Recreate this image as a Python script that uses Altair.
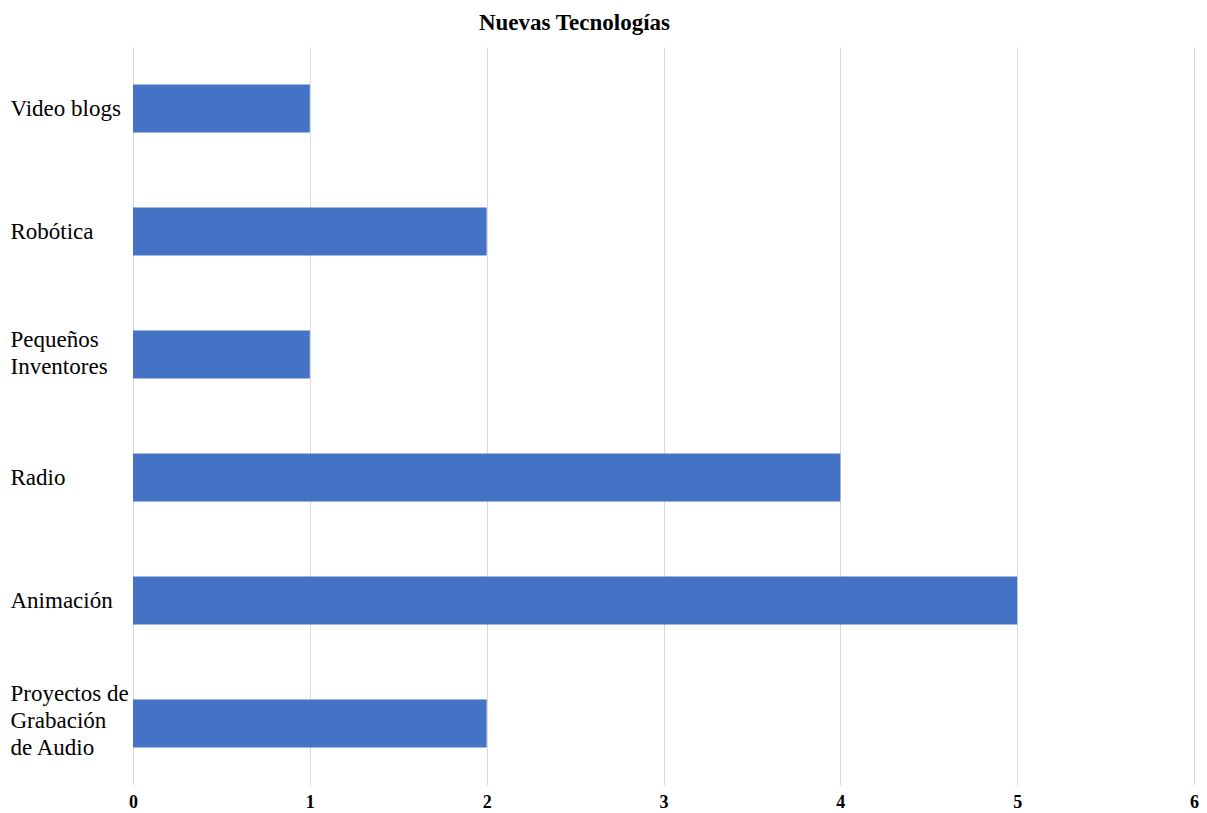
import altair as alt
import pandas as pd

categories = ["Video blogs", "Robótica", "Pequeños\nInventores", "Radio", "Animación", "Proyectos de\nGrabación\nde Audio"]
values = [1, 2, 1, 4, 5, 2]
x_ticks = [0, 1, 2, 3, 4, 5, 6]

df = pd.DataFrame({"cat": categories, "val": values})

chart = alt.Chart(df).mark_bar(color="#4472C4").encode(
    x=alt.X("val:Q", scale=alt.Scale(domain=[0, 6], nice=False),
            axis=alt.Axis(values=x_ticks, title=None, grid=True, gridColor="#d9d9d9",
                          domain=False, ticks=False, labelFont="Liberation Serif",
                          labelFontWeight="bold", labelFontSize=18, labelColor="#000000",
                          labelPadding=8, labelFlush=False, format="d")),
    y=alt.Y("cat:N", sort=categories,
            scale=alt.Scale(paddingInner=0.61, paddingOuter=0.305),
            axis=alt.Axis(title=None, domain=False, ticks=False, labelAlign="left",
                          labelPadding=123, labelFont="Liberation Serif", labelFontSize=23,
                          labelColor="#000000", labelLineHeight=27, labelLimit=200,
                          labelOffset=alt.ExprRef("-15*(length(split(datum.value, '\\n'))-1)"),
                          labelExpr="split(datum.label, '\\n')")),
).properties(
    width=1061, height=738,
    title=alt.Title("Nuevas Tecnologías", font="Liberation Serif", fontSize=23,
                    fontWeight="bold", color="#000000", anchor="middle", dx=-89, offset=12),
    autosize=alt.AutoSizeParams(type="none"),
    padding={"left": 125, "top": 39, "right": 5, "bottom": 30},
).configure_view(stroke=None)

chart.save("out.html", embed_options={"renderer": "svg", "actions": False})
